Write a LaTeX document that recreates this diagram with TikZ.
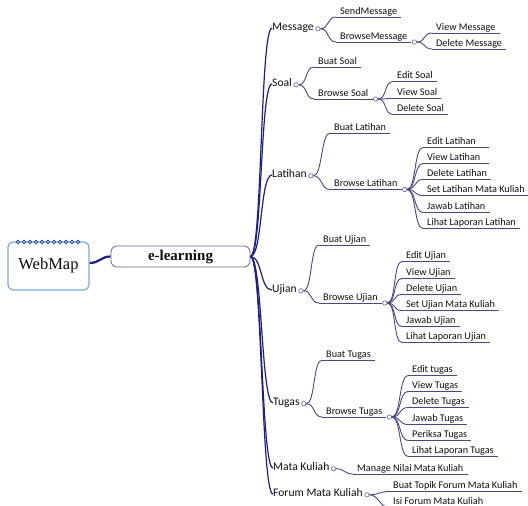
\documentclass[tikz,border=0pt]{standalone}
\usepackage{fontspec}
\setmainfont{Carlito}
\newfontfamily\serifA{Liberation Serif}
\definecolor{txtc}{RGB}{15,15,15}
\definecolor{trunkc}{RGB}{30,30,135}
\definecolor{brc}{RGB}{72,72,135}
\definecolor{knobc}{RGB}{95,95,165}
\definecolor{wmc}{RGB}{120,170,225}
\definecolor{scc}{RGB}{35,60,150}
\definecolor{elc}{RGB}{100,100,150}
\newcommand\mmlink[2]{\draw[brl] (#1.east) .. controls +(9,0) and +(-9,0) .. (#2.south west);}
\newcommand\mmtrunk[1]{\draw[trunk] (el.east) .. controls +(12,0) and +(-12,0) .. (#1.west);}
\begin{document}
\begin{tikzpicture}[x=1pt,y=-1pt,
 lvl1/.style={font=\fontsize{11.6}{13}\selectfont, text=txtc, inner sep=0pt, anchor=west, text height=8pt, text depth=2.5pt},
 brl/.style={draw=brc, line width=0.9pt},
 leaf/.style={font=\fontsize{10.2}{12}\selectfont, text=txtc, inner xsep=4pt, inner ysep=0.5pt, text height=7pt, text depth=2.2pt, anchor=south west,
   append after command={(\tikzlastnode.south west) edge[brl] (\tikzlastnode.south east)}},
 knob/.style={circle, draw=knobc, fill=white, line width=0.6pt, inner sep=0pt, minimum size=4.4pt},
 trunk/.style={draw=trunkc, line width=1.2pt},
 wmbox/.style={draw=wmc, line width=1.2pt, rounded corners=5pt, fill=white, minimum width=81pt, minimum height=48pt, font=\serifA\fontsize{16.5}{18}\selectfont, text=txtc},
 elbox/.style={draw=elc, line width=0.8pt, rounded corners=6pt, fill=white, minimum width=139pt, minimum height=21pt, font=\serifA\bfseries\fontsize{15}{17}\selectfont, text=txtc},
]
\useasboundingbox (0,0) rectangle (528,506);

% root boxes
\node[wmbox] (wm) at (48.5,266) {WebMap};
\foreach \i in {0,...,10}
  \draw[scc, fill=wmc!50, line width=0.7pt] (18+\i*6,242) circle[radius=1.9];
\node[elbox] (el) at (180.5,256.5) {e-learning};
\draw[line width=2.2pt, trunkc] ([yshift=3pt]wm.east) .. controls +(10,0) and +(-10,0) .. (el.west);

% first level
\node[lvl1] (msg) at (272,28) {Message};
\node[lvl1] (soal) at (272,84) {Soal};
\node[lvl1] (lat) at (272,175) {Latihan};
\node[lvl1] (uji) at (272,290) {Ujian};
\node[lvl1] (tug) at (273,403) {Tugas};
\node[lvl1] (mk) at (273,468) {Mata Kuliah};
\node[lvl1] (fmk) at (273,494) {Forum Mata Kuliah};
\foreach \n in {msg,soal,lat,uji,tug,mk,fmk}{\mmtrunk{\n}}
\foreach \n in {msg,soal,lat,uji,tug,mk,fmk}
  \node[knob, anchor=west] (\n k) at ([xshift=1.5pt,yshift=-0.8pt]\n.east) {};

% Message
\node[leaf] (sendm) at (336,17) {SendMessage};
\node[leaf] (brm) at (336,42) {BrowseMessage};
\node[knob, anchor=west] (brmk) at ([xshift=0.5pt]brm.south east) {};
\node[leaf] (viewm) at (432,33) {View Message};
\node[leaf] (delm) at (432,49) {Delete Message};
\mmlink{msgk}{sendm} \mmlink{msgk}{brm}
\mmlink{brmk}{viewm} \mmlink{brmk}{delm}

% Soal
\node[leaf] (buats) at (314,67) {Buat Soal};
\node[leaf] (brs) at (314,99) {Browse Soal};
\node[knob, anchor=west] (brsk) at ([xshift=0.5pt]brs.south east) {};
\node[leaf] (edits) at (393,81.5) {Edit Soal};
\node[leaf] (views) at (393,98.5) {View Soal};
\node[leaf] (dels) at (393,114.5) {Delete Soal};
\mmlink{soalk}{buats} \mmlink{soalk}{brs}
\foreach \n in {edits,views,dels}{\mmlink{brsk}{\n}}

% Latihan
\node[leaf] (buatl) at (330,133) {Buat Latihan};
\node[leaf] (brlat) at (330,189.5) {Browse Latihan};
\node[knob, anchor=west] (brlatk) at ([xshift=0.5pt]brlat.south east) {};
\node[leaf] (editl) at (423,147.5) {\makebox[58pt][l]{Edit Latihan}};
\node[leaf] (viewl) at (423,163.5) {\makebox[58pt][l]{View Latihan}};
\node[leaf] (dell) at (423,179.5) {Delete Latihan};
\node[leaf] (setl) at (423,195.5) {Set Latihan Mata Kuliah};
\node[leaf] (jawl) at (423,212.5) {Jawab Latihan};
\node[leaf] (lapl) at (423,228.5) {Lihat Laporan Latihan};
\mmlink{latk}{buatl} \mmlink{latk}{brlat}
\foreach \n in {editl,viewl,dell,setl,jawl,lapl}{\mmlink{brlatk}{\n}}

% Ujian
\node[leaf] (buatu) at (319,245) {Buat Ujian};
\node[leaf] (bru) at (319,303) {Browse Ujian};
\node[knob, anchor=west] (bruk) at ([xshift=0.5pt]bru.south east) {};
\node[leaf] (editu) at (402,261.5) {Edit Ujian};
\node[leaf] (viewu) at (402,278.5) {View Ujian};
\node[leaf] (delu) at (402,294.5) {Delete Ujian};
\node[leaf] (setu) at (402,310.5) {Set Ujian Mata Kuliah};
\node[leaf] (jawu) at (402,326.5) {Jawab Ujian};
\node[leaf] (lapu) at (402,342.5) {Lihat Laporan Ujian};
\mmlink{ujik}{buatu} \mmlink{ujik}{bru}
\foreach \n in {editu,viewu,delu,setu,jawu,lapu}{\mmlink{bruk}{\n}}

% Tugas
\node[leaf] (buatt) at (322,360) {Buat Tugas};
\node[leaf] (brt) at (322,417) {Browse Tugas};
\node[knob, anchor=west] (brtk) at ([xshift=0.5pt]brt.south east) {};
\node[leaf] (editt) at (408,375.5) {Edit tugas};
\node[leaf] (viewt) at (408,391.5) {View Tugas};
\node[leaf] (delt) at (408,407.5) {Delete Tugas};
\node[leaf] (jawt) at (408,424.5) {Jawab Tugas};
\node[leaf] (prt) at (408,440.5) {Periksa Tugas};
\node[leaf] (lapt) at (408,456.5) {Lihat Laporan Tugas};
\mmlink{tugk}{buatt} \mmlink{tugk}{brt}
\foreach \n in {editt,viewt,delt,jawt,prt,lapt}{\mmlink{brtk}{\n}}

% Mata Kuliah
\node[leaf] (mnmk) at (353,474) {Manage Nilai Mata Kuliah};
\mmlink{mkk}{mnmk}

% Forum
\node[leaf] (btf) at (389,491.5) {Buat Topik Forum Mata Kuliah};
\node[leaf] (isf) at (389,507.5) {Isi Forum Mata Kuliah};
\mmlink{fmkk}{btf} \mmlink{fmkk}{isf}
\end{tikzpicture}
\end{document}
